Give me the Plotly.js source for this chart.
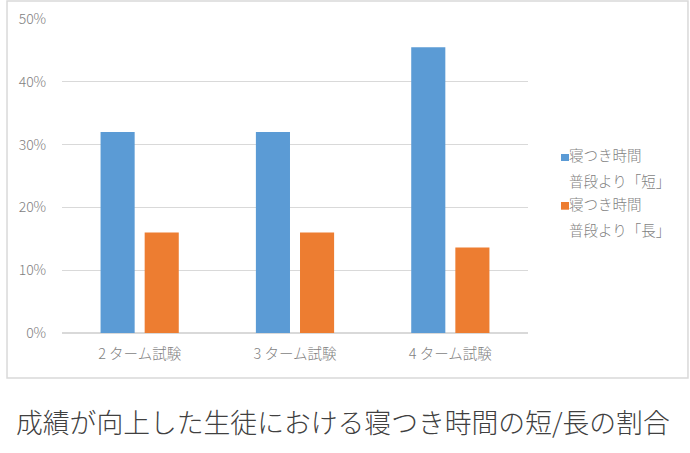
<!DOCTYPE html>
<html><head><meta charset="utf-8">
<script src="https://cdn.plot.ly/plotly-3.0.1.min.js"></script>
<style>html,body{margin:0;padding:0;background:#fff;}</style>
</head><body>
<div id="chart" style="width:690px;height:453px;"></div>
<script>
const categories = ["2 ターム試験", "3 ターム試験", "4 ターム試験"];
const shortValues = [0.32, 0.32, 0.455];
const longValues = [0.16, 0.16, 0.136];
const seriesNames = [["寝つき時間", "普段より「短」"], ["寝つき時間", "普段より「長」"]];
const seriesColors = ["#5B9BD5", "#ED7D31"];
const captionText = "成績が向上した生徒における寝つき時間の短/長の割合";

const FONT = '"Noto Sans CJK JP", "Noto Sans", sans-serif';

const traces = [shortValues, longValues].map((vals, i) => ({
  type: "bar",
  x: categories,
  y: vals,
  name: seriesNames[i].join(" "),
  marker: {color: seriesColors[i]},
  showlegend: false,
  hoverinfo: "skip"
}));

// legend drawn as annotations + squares
const legendTextY = [[0.5669, 0.4857], [0.414, 0.3312]];
const legendBoxY = [[0.5478, 0.570], [0.3927, 0.4172]];
const annotations = [];
const shapes = [];
seriesNames.forEach((lines, i) => {
  lines.forEach((t, j) => {
    annotations.push({
      xref: "paper", yref: "paper", x: 1.0838, y: legendTextY[i][j],
      xanchor: "left", yanchor: "middle", text: t, showarrow: false,
      font: {family: FONT, size: 14.5, color: "#7f7f7f", weight: 300}
    });
  });
  shapes.push({
    type: "rect", xref: "paper", yref: "paper",
    x0: 1.0708, x1: 1.0880, y0: legendBoxY[i][0], y1: legendBoxY[i][1],
    fillcolor: seriesColors[i], line: {width: 0}
  });
});
annotations.push({
  xref: "paper", yref: "paper", x: 0.603, y: -0.2834,
  xanchor: "center", yanchor: "middle", text: captionText, showarrow: false,
  font: {family: FONT, size: 26.8, color: "#404040", weight: 300}
});
shapes.push({
  type: "rect", xref: "paper", yref: "paper",
  x0: -0.118, x1: 1.3433, y0: -0.1433, y1: 1.0573,
  line: {color: "#d9d9d9", width: 1.5}, fillcolor: "rgba(0,0,0,0)"
});

const layout = {
  width: 690, height: 453,
  margin: {l: 62, r: 162, t: 19, b: 120},
  paper_bgcolor: "#ffffff", plot_bgcolor: "#ffffff",
  font: {family: FONT, color: "#7f7f7f"},
  barmode: "group",
  bargap: 0.432,
  bargroupgap: 0.227,
  xaxis: {
    type: "category",
    showgrid: false, showline: false, zeroline: false,
    ticks: "outside", ticklen: 8, tickcolor: "rgba(0,0,0,0)",
    tickfont: {family: FONT, size: 14.5, color: "#7f7f7f", weight: 300}
  },
  yaxis: {
    range: [0, 0.5], dtick: 0.1, tickformat: ".0%",
    showgrid: true, gridcolor: "#d9d9d9", gridwidth: 1,
    zeroline: true, zerolinecolor: "#d9d9d9", zerolinewidth: 1.5,
    showline: false,
    ticks: "outside", ticklen: 12, tickcolor: "rgba(0,0,0,0)",
    tickfont: {family: FONT, size: 14, color: "#7f7f7f", weight: 300}
  },
  annotations: annotations,
  shapes: shapes
};

Plotly.newPlot("chart", traces, layout, {staticPlot: true, displayModeBar: false});
</script>
</body></html>
